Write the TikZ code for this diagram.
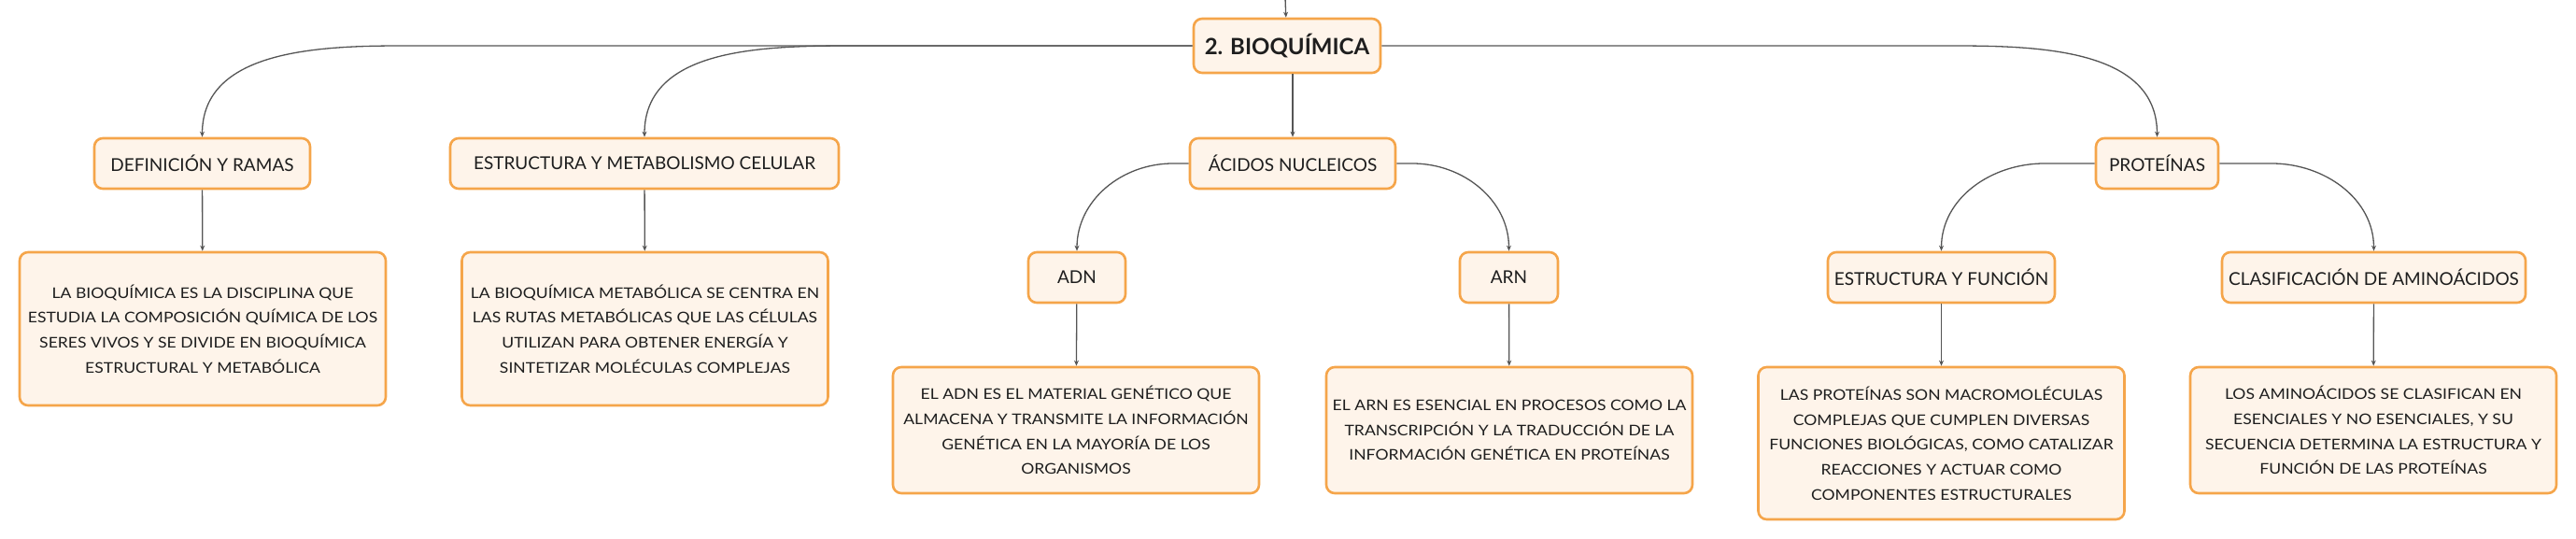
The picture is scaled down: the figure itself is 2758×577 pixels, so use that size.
\documentclass[tikz,border=0pt]{standalone}
\usepackage{fontspec}
\setmainfont{Lato}
\newfontfamily\widelato{Lato}[FakeStretch=1.12]
\usetikzlibrary{arrows.meta}
\definecolor{boxline}{HTML}{F5A54A}
\definecolor{boxfill}{HTML}{FEF4EA}
\definecolor{linkgray}{HTML}{555555}
\definecolor{ink}{HTML}{1E1E1E}
\tikzset{
  topic/.style={draw=boxline,fill=boxfill,line width=2.6pt,rounded corners=9pt,text=ink,
    font=\fontsize{19}{22}\selectfont,minimum height=54pt,inner sep=0pt},
  note/.style={topic,font=\widelato\fontsize{15.7}{26.7}\selectfont,align=center,minimum width=392pt},
  link/.style={draw=linkgray,line width=1.3pt,-{Stealth[length=6pt,width=5pt]}}
}
\begin{document}
\begin{tikzpicture}[x=1pt,y=-1pt]
            \useasboundingbox (0,0) rectangle (2758,577);
            \node [topic,font=\fontsize{24}{28}\selectfont\bfseries,minimum width=200pt,minimum height=58pt] (bioq) at (1378,49) {2. BIOQUÍMICA};
            \node [topic,minimum width=231pt] (defin) at (216.5,175) {DEFINICIÓN Y RAMAS};
            \node [topic,minimum width=416pt] (estmet) at (690,175) {ESTRUCTURA Y METABOLISMO CELULAR};
            \node [topic,minimum width=220pt] (acidos) at (1384,175) {ÁCIDOS NUCLEICOS};
            \node [topic,minimum width=131pt] (prot) at (2309.5,175) {PROTEÍNAS};
            \node [topic,minimum width=104pt] (adn) at (1153,297) {ADN};
            \node [topic,minimum width=105pt] (arn) at (1615.5,297) {ARN};
            \node [topic,minimum width=243pt] (estfun) at (2078.5,297) {ESTRUCTURA Y FUNCIÓN};
            \node [topic,minimum width=325pt] (clasif) at (2541.5,297) {CLASIFICACIÓN DE AMINOÁCIDOS};
            \node [note,minimum height=164pt] (defnote) at (217,352) {LA BIOQUÍMICA ES LA DISCIPLINA QUE\\ESTUDIA LA COMPOSICIÓN QUÍMICA DE LOS\\SERES VIVOS Y SE DIVIDE EN BIOQUÍMICA\\ESTRUCTURAL Y METABÓLICA};
            \node [note,minimum height=164pt] (metnote) at (690.5,352) {LA BIOQUÍMICA METABÓLICA SE CENTRA EN\\LAS RUTAS METABÓLICAS QUE LAS CÉLULAS\\UTILIZAN PARA OBTENER ENERGÍA Y\\SINTETIZAR MOLÉCULAS COMPLEJAS};
            \node [note,minimum height=135pt] (adnnote) at (1152,460.5) {EL ADN ES EL MATERIAL GENÉTICO QUE\\ALMACENA Y TRANSMITE LA INFORMACIÓN\\GENÉTICA EN LA MAYORÍA DE LOS\\ORGANISMOS};
            \node [note,minimum height=135pt] (arnnote) at (1616,460.5) {EL ARN ES ESENCIAL EN PROCESOS COMO LA\\TRANSCRIPCIÓN Y LA TRADUCCIÓN DE LA\\INFORMACIÓN GENÉTICA EN PROTEÍNAS};
            \node [note,minimum height=163pt] (protnote) at (2078.5,474.5) {LAS PROTEÍNAS SON MACROMOLÉCULAS\\COMPLEJAS QUE CUMPLEN DIVERSAS\\FUNCIONES BIOLÓGICAS, COMO CATALIZAR\\REACCIONES Y ACTUAR COMO\\COMPONENTES ESTRUCTURALES};
            \node [note,minimum height=135pt] (aminote) at (2541,460.5) {LOS AMINOÁCIDOS SE CLASIFICAN EN\\ESENCIALES Y NO ESENCIALES, Y SU\\SECUENCIA DETERMINA LA ESTRUCTURA Y\\FUNCIÓN DE LAS PROTEÍNAS};
            \coordinate (up) at (1376,-2);
            \coordinate (forkdef) at (431,49);
            \coordinate (forkmet) at (916,49);
            \coordinate (forkprot) at (2090,49);
            \draw [link] (up) -- (bioq);
            \draw [link] (bioq.west) -- (forkdef) to[out=180,in=90] (defin.north);
            \draw [link] (bioq.west) -- (forkmet) to[out=180,in=90] (estmet.north);
            \draw [link] (bioq.east) -- (forkprot) to[out=0,in=90] (prot.north);
            \draw [link] (acidos.north |- bioq.south) -- (acidos.north);
            \draw [link] (acidos.west) -- ++(-17,0) to[out=180,in=90] (adn.north);
            \draw [link] (acidos.east) -- ++(17,0) to[out=0,in=90] (arn.north);
            \draw [link] (prot.west) -- ++(-54,0) to[out=180,in=90] (estfun.north);
            \draw [link] (prot.east) -- ++(56,0) to[out=0,in=90] (clasif.north);
            \draw [link] (defin) -- (defnote);
            \draw [link] (estmet) -- (metnote);
            \draw [link] (adn) -- (adnnote);
            \draw [link] (arn) -- (arnnote);
            \draw [link] (estfun) -- (protnote);
            \draw [link] (clasif) -- (aminote);
        \end{tikzpicture}
\end{document}
